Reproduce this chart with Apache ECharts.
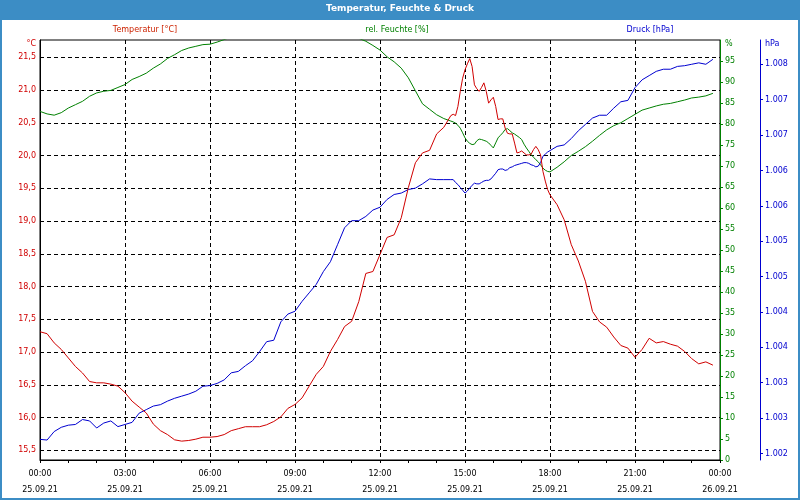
<!DOCTYPE html>
<html><head><meta charset="utf-8">
<script src="https://cdn.jsdelivr.net/npm/echarts@6/dist/echarts.min.js"></script>
<style>html,body{margin:0;padding:0;background:#fff}#c{width:800px;height:500px}</style>
</head><body><div id="c"></div>
<script>
const chartTitle = 'Temperatur, Feuchte & Druck';
const seriesNames = ['Temperatur [°C]', 'rel. Feuchte [%]', 'Druck [hPa]'];
const axisUnits = ['°C', '%', 'hPa'];

const times = [
 '00:00','00:15','00:30','00:45','01:00','01:15','01:30','01:45','02:00','02:15','02:30','02:45',
 '03:00','03:15','03:30','03:45','04:00','04:15','04:30','04:45','05:00','05:15','05:30','05:45',
 '06:00','06:15','06:30','06:45','07:00','07:15','07:30','07:45','08:00','08:15','08:30','08:45',
 '09:00','09:15','09:30','09:45','10:00','10:15','10:30','10:45','11:00','11:15','11:30','11:45',
 '12:00','12:15','12:30','12:45','13:00','13:15','13:30','13:45','14:00','14:15','14:30',
 '14:35','14:40','14:45','14:50','14:55',
 '15:00','15:05','15:10','15:15','15:20','15:25','15:30','15:35','15:40','15:45','15:50','15:55',
 '16:00','16:05','16:10','16:15','16:20','16:25','16:30','16:35','16:40','16:45','16:50','16:55',
 '17:00','17:05','17:10','17:15','17:20','17:25','17:30','17:35','17:40','17:45','17:50','17:55',
 '18:00',
 '18:15','18:30','18:45','19:00','19:15','19:30','19:45','20:00','20:15','20:30','20:45',
 '21:00','21:15','21:30','21:45','22:00','22:15','22:30','22:45','23:00','23:15','23:30','23:45'
];

const temperature = [
 17.31,17.28,17.14,17.04, 16.91,16.78,16.68,16.55, 16.53,16.53,16.51,16.48,
 16.38,16.25,16.16,16.07, 15.90,15.80,15.74,15.66, 15.64,15.65,15.67,15.70,
 15.70,15.71,15.74,15.80, 15.83,15.86,15.86,15.86, 15.89,15.94,16.01,16.14,
 16.20,16.30,16.48,16.66, 16.78,17.01,17.19,17.39, 17.47,17.77,18.20,18.23,
 18.49,18.75,18.79,19.05, 19.51,19.89,20.04,20.08, 20.33,20.43,20.61,
 20.63,20.61,20.75,20.98,21.18,
 21.31,21.40,21.48,21.36,21.08,21.02,20.98,21.04,21.11,20.98,20.80,20.85,
 20.89,20.75,20.55,20.56,20.56,20.42,20.34,20.33,20.33,20.19,20.04,20.05,
 20.07,20.04,20.01,20.01,20.02,20.09,20.14,20.09,20.01,19.76,19.61,19.48,
 19.40,
 19.25,19.02,18.64, 18.39,18.08,17.62,17.46, 17.38,17.23,17.10,17.06,
 16.92,17.04,17.21,17.14, 17.16,17.12,17.09,17.01, 16.90,16.82,16.85,16.80
];

const humidity = [
 83.0,82.4,82.1,82.7, 83.8,84.6,85.4,86.6, 87.4,87.8,88.0,88.7,
 89.4,90.6,91.3,92.1, 93.3,94.3,95.6,96.5, 97.5,98.1,98.5,98.9,
 99.0,99.5,100.1,100.7, 101.2,101.6,102.0,102.4, 102.8,103.0,103.2,103.4,
 103.5,103.5,103.4,103.2, 103.0,102.7,102.3,101.7, 101.0,100.4,99.7,98.7,
 97.6,96.0,94.8,93.3, 91.0,87.9,84.8,83.5, 82.2,81.3,80.7,
 80.5,80.2,79.7,79.0,77.9,
 76.7,75.9,75.4,75.1,75.2,76.0,76.4,76.3,76.1,75.9,75.5,74.9,
 74.3,75.5,76.7,77.3,77.9,78.7,78.9,78.4,77.9,77.6,77.2,76.8,
 76.3,75.2,74.3,73.5,72.7,72.1,71.5,71.0,70.3,69.5,69.0,68.7,
 68.6,
 69.7,71.0,72.5, 73.5,74.6,75.9,77.3, 78.6,79.6,80.3,81.3,
 82.3,83.3,83.8,84.3, 84.7,84.9,85.3,85.7, 86.2,86.4,86.7,87.3
];

const pressure = [
 1002.70,1002.69,1002.81,1002.87, 1002.90,1002.91,1002.98,1002.96, 1002.86,1002.93,1002.96,1002.88,
 1002.91,1002.94,1003.07,1003.12, 1003.17,1003.19,1003.24,1003.28, 1003.31,1003.34,1003.38,1003.45,
 1003.46,1003.49,1003.54,1003.64, 1003.66,1003.74,1003.81,1003.94, 1004.08,1004.10,1004.36,1004.47,
 1004.51,1004.65,1004.77,1004.89, 1005.07,1005.21,1005.45,1005.69, 1005.79,1005.79,1005.85,1005.94,
 1005.98,1006.09,1006.16,1006.18, 1006.23,1006.25,1006.31,1006.38, 1006.37,1006.37,1006.37,
 1006.37,1006.33,1006.30,1006.26,1006.22,
 1006.18,1006.21,1006.25,1006.29,1006.32,1006.31,1006.31,1006.33,1006.35,1006.36,1006.36,1006.38,
 1006.42,1006.46,1006.51,1006.52,1006.52,1006.50,1006.51,1006.54,1006.55,1006.57,1006.58,1006.59,
 1006.60,1006.61,1006.61,1006.60,1006.58,1006.57,1006.55,1006.56,1006.61,1006.70,1006.73,1006.76,
 1006.78,
 1006.84,1006.86,1006.95, 1007.06,1007.15,1007.24,1007.28, 1007.28,1007.38,1007.47,1007.49,
 1007.67,1007.78,1007.84,1007.90, 1007.93,1007.93,1007.97,1007.98, 1008.00,1008.02,1008.00,1008.07
];

const timeTickLabels = ['00:00','03:00','06:00','09:00','12:00','15:00','18:00','21:00','00:00'];
const dateTickLabels = ['25.09.21','25.09.21','25.09.21','25.09.21','25.09.21','25.09.21','25.09.21','25.09.21','26.09.21'];
const tempTicks = [15.5,16,16.5,17,17.5,18,18.5,19,19.5,20,20.5,21,21.5];
const humTicks = [0,5,10,15,20,25,30,35,40,45,50,55,60,65,70,75,80,85,90,95];
const presTicks = [1002.5,1003,1003.5,1004,1004.5,1005,1005.5,1006,1006.5,1007,1007.5,1008];

// axis ranges (layout of the reference scales)
const TEMP_MIN = 15.352, TEMP_MAX = 21.764;
const HUM_MIN = 0, HUM_MAX = 100;
const PRES_MIN = 1002.408, PRES_MAX = 1008.343;

const FONT = 'DejaVu Sans';
const RED = '#d00000', GREEN = '#008000', BLUE = '#0000d0';
const BAR = '#3c8dc5';

function hours(t) { const p = t.split(':').map(Number); return p[0] + p[1] / 60; }
function pairs(vals) { return times.map((t, i) => [hours(t), vals[i]]); }

const unitRich = { u: { padding: [8, 0, 0, 0], fontFamily: FONT, fontSize: 8 } };

const chart = echarts.init(document.getElementById('c'), null, { renderer: 'canvas' });
chart.setOption({
  animation: false,
  backgroundColor: '#ffffff',
  textStyle: { fontFamily: FONT },
  grid: {
    left: 40, top: 40, width: 680, height: 420,
    show: true, borderColor: '#000', borderWidth: 1, backgroundColor: '#fff',
    containLabel: false, outerBoundsMode: 'none'
  },
  graphic: [
    { type: 'rect', shape: { x: 0, y: 0, width: 800, height: 20 }, style: { fill: BAR }, silent: true, z: 10 },
    { type: 'rect', shape: { x: 1, y: 1, width: 798, height: 498 }, style: { fill: 'none', stroke: BAR, lineWidth: 2 }, silent: true, z: 10 },
    { type: 'text', x: 400, y: 9, z: 11, style: { text: chartTitle, fill: '#fff', font: 'bold 9px "DejaVu Sans"', align: 'center', verticalAlign: 'middle' } },
    { type: 'text', x: 145, y: 30, z: 11, style: { text: seriesNames[0], fill: '#cc2200', font: '8px "DejaVu Sans"', align: 'center', verticalAlign: 'middle' } },
    { type: 'text', x: 397, y: 30, z: 11, style: { text: seriesNames[1], fill: GREEN, font: '8px "DejaVu Sans"', align: 'center', verticalAlign: 'middle' } },
    { type: 'text', x: 650, y: 30, z: 11, style: { text: seriesNames[2], fill: BLUE, font: '8px "DejaVu Sans"', align: 'center', verticalAlign: 'middle' } }
  ],
  xAxis: {
    type: 'value', min: 0, max: 24, interval: 3,
    axisLine: { lineStyle: { color: '#000', width: 1 } },
    axisTick: { show: true, length: 3, lineStyle: { color: '#000' } },
    minorTick: { show: true, splitNumber: 3, length: 3, lineStyle: { color: '#000' } },
    minorSplitLine: { show: false },
    splitLine: { show: true, lineStyle: { color: '#000', type: [4, 3], width: 1 } },
    axisLabel: {
      color: '#000', fontFamily: FONT, fontSize: 8, lineHeight: 16, margin: 6,
      formatter: v => { const i = Math.round(v / 3); return timeTickLabels[i] + '\n' + dateTickLabels[i]; }
    }
  },
  yAxis: [
    {
      type: 'value', position: 'left', min: TEMP_MIN, max: TEMP_MAX,
      axisLine: { show: true, lineStyle: { color: '#000' } },
      axisTick: { show: false, customValues: tempTicks },
      splitLine: { show: true, lineStyle: { color: '#000', type: [4, 3], width: 1 } },
      axisLabel: {
        color: RED, fontFamily: FONT, fontSize: 8, margin: 4,
        customValues: tempTicks.concat([TEMP_MAX]),
        formatter: v => v > 21.6 ? '{u|' + axisUnits[0] + '}' : v.toFixed(1).replace('.', ','),
        rich: unitRich
      }
    },
    {
      type: 'value', position: 'right', min: HUM_MIN, max: HUM_MAX,
      axisLine: { show: true, lineStyle: { color: GREEN } },
      axisTick: { show: true, length: 3, lineStyle: { color: GREEN }, customValues: humTicks },
      splitLine: { show: false },
      axisLabel: {
        color: GREEN, fontFamily: FONT, fontSize: 8, margin: 5,
        customValues: humTicks.concat([HUM_MAX]),
        formatter: v => v >= 99.9 ? '{u|' + axisUnits[1] + '}' : String(v),
        rich: unitRich
      }
    },
    {
      type: 'value', position: 'right', offset: 40, min: PRES_MIN, max: PRES_MAX,
      axisLine: { show: true, lineStyle: { color: BLUE } },
      axisTick: { show: true, length: 3, lineStyle: { color: BLUE }, customValues: presTicks },
      splitLine: { show: false },
      axisLabel: {
        color: BLUE, fontFamily: FONT, fontSize: 8, margin: 5,
        customValues: presTicks.concat([PRES_MAX]),
        formatter: v => v > 1008.2 ? '{u|' + axisUnits[2] + '}' : (Math.floor(v + 1e-6) / 1000).toFixed(3),
        rich: unitRich
      }
    }
  ],
  series: [
    { name: seriesNames[1], type: 'line', yAxisIndex: 1, data: pairs(humidity), showSymbol: false, symbol: 'none',
      lineStyle: { color: GREEN, width: 1 }, itemStyle: { color: GREEN }, clip: true },
    { name: seriesNames[2], type: 'line', yAxisIndex: 2, data: pairs(pressure), showSymbol: false, symbol: 'none',
      lineStyle: { color: BLUE, width: 1 }, itemStyle: { color: BLUE }, clip: true },
    { name: seriesNames[0], type: 'line', yAxisIndex: 0, data: pairs(temperature), showSymbol: false, symbol: 'none',
      lineStyle: { color: RED, width: 1 }, itemStyle: { color: RED }, clip: true }
  ]
});
</script>
</body></html>
